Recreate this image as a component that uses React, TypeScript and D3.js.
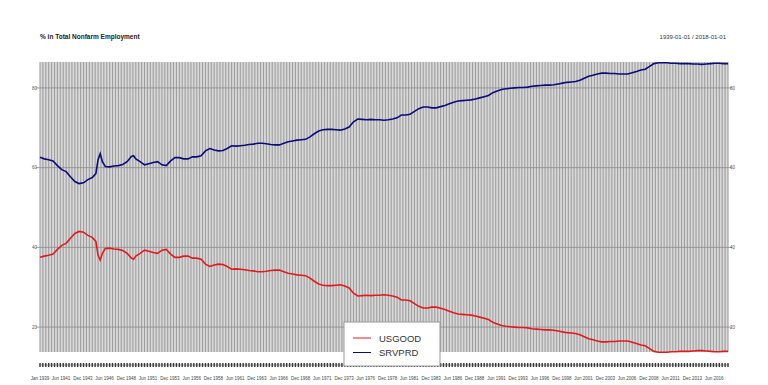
import React from 'react';
import * as d3 from 'd3';

// semi-annual readings (plus a few extra months around 1945/1949)
const dates: string[] = [
    '1939-01', '1939-07', '1940-01', '1940-07', '1941-01', '1941-07', '1942-01', '1942-07',
    '1943-01', '1943-07', '1944-01', '1944-07', '1945-01', '1945-06', '1945-09', '1945-12',
    '1946-03', '1946-07', '1947-01', '1947-07', '1948-01', '1948-07', '1949-01', '1949-07',
    '1949-10', '1950-01', '1950-07', '1951-01', '1951-07', '1952-01', '1952-07', '1953-01',
    '1953-07', '1954-01', '1954-07', '1955-01', '1955-07', '1956-01', '1956-07', '1957-01',
    '1957-07', '1958-01', '1958-07', '1959-01', '1959-07', '1960-01', '1960-07', '1961-01',
    '1961-07', '1962-01', '1962-07', '1963-01', '1963-07', '1964-01', '1964-07', '1965-01',
    '1965-07', '1966-01', '1966-07', '1967-01', '1967-07', '1968-01', '1968-07', '1969-01',
    '1969-07', '1970-01', '1970-07', '1971-01', '1971-07', '1972-01', '1972-07', '1973-01',
    '1973-07', '1974-01', '1974-07', '1975-01', '1975-07', '1976-01', '1976-07', '1977-01',
    '1977-07', '1978-01', '1978-07', '1979-01', '1979-07', '1980-01', '1980-07', '1981-01',
    '1981-07', '1982-01', '1982-07', '1983-01', '1983-07', '1984-01', '1984-07', '1985-01',
    '1985-07', '1986-01', '1986-07', '1987-01', '1987-07', '1988-01', '1988-07', '1989-01',
    '1989-07', '1990-01', '1990-07', '1991-01', '1991-07', '1992-01', '1992-07', '1993-01',
    '1993-07', '1994-01', '1994-07', '1995-01', '1995-07', '1996-01', '1996-07', '1997-01',
    '1997-07', '1998-01', '1998-07', '1999-01', '1999-07', '2000-01', '2000-07', '2001-01',
    '2001-07', '2002-01', '2002-07', '2003-01', '2003-07', '2004-01', '2004-07', '2005-01',
    '2005-07', '2006-01', '2006-07', '2007-01', '2007-07', '2008-01', '2008-07', '2009-01',
    '2009-07', '2010-01', '2010-07', '2011-01', '2011-07', '2012-01', '2012-07', '2013-01',
    '2013-07', '2014-01', '2014-07', '2015-01', '2015-07', '2016-01', '2016-07', '2017-01',
    '2017-07', '2018-01'
];

const usgood: number[] = [
    37.5, 37.8, 38.0, 38.3, 39.5, 40.5, 41.0, 42.3,
    43.5, 44.0, 43.8, 43.0, 42.5, 41.5, 38.0, 36.8,
    38.5, 39.7, 39.8, 39.6, 39.5, 39.2, 38.5, 37.3,
    37.0, 37.8, 38.5, 39.3, 39.0, 38.7, 38.5, 39.3,
    39.5, 38.3, 37.5, 37.5, 37.8, 37.8, 37.3, 37.3,
    37.0, 35.8, 35.2, 35.6, 35.8, 35.7, 35.2, 34.5,
    34.6, 34.5, 34.4, 34.2, 34.1, 33.9, 33.9, 34.0,
    34.2, 34.3, 34.3, 33.9, 33.5, 33.3, 33.1, 33.0,
    32.9, 32.3, 31.5, 30.8, 30.5, 30.4, 30.4, 30.5,
    30.6, 30.3, 29.8, 28.5, 27.8, 27.9, 28.0, 27.9,
    28.0, 28.0, 28.1, 28.0, 27.8, 27.5, 26.8, 26.8,
    26.6, 25.9, 25.2, 24.8, 24.8, 25.0, 25.0, 24.7,
    24.4, 24.0, 23.6, 23.3, 23.2, 23.1, 23.0, 22.8,
    22.5, 22.2, 21.9, 21.2, 20.8, 20.4, 20.2, 20.1,
    20.0, 19.9, 19.9, 19.8, 19.6, 19.5, 19.4, 19.3,
    19.3, 19.2, 19.0, 18.8, 18.6, 18.5, 18.4, 18.1,
    17.6, 17.1, 16.8, 16.5, 16.3, 16.3, 16.4, 16.4,
    16.5, 16.5, 16.5, 16.2, 15.9, 15.5, 15.3, 14.6,
    13.9, 13.7, 13.7, 13.7, 13.8, 13.8, 13.9, 13.9,
    13.9, 14.0, 14.1, 14.1, 14.0, 13.9, 13.8, 13.8,
    13.9, 13.9
];

const srvprd: number[] = [
    62.6, 62.2, 62.0, 61.7, 60.5, 59.5, 59.0, 57.7,
    56.5, 56.0, 56.2, 57.0, 57.5, 58.5, 62.0, 63.5,
    61.5, 60.3, 60.2, 60.4, 60.5, 60.8, 61.5, 62.8,
    63.0, 62.2, 61.5, 60.7, 61.0, 61.3, 61.5, 60.7,
    60.5, 61.7, 62.5, 62.5, 62.2, 62.2, 62.7, 62.7,
    63.0, 64.2, 64.8, 64.4, 64.2, 64.3, 64.8, 65.5,
    65.4, 65.5, 65.6, 65.8, 65.9, 66.1, 66.1, 66.0,
    65.8, 65.7, 65.7, 66.1, 66.5, 66.7, 66.9, 67.0,
    67.1, 67.7, 68.5, 69.2, 69.5, 69.6, 69.6, 69.5,
    69.4, 69.7, 70.2, 71.5, 72.2, 72.1, 72.0, 72.1,
    72.0, 72.0, 71.9, 72.0, 72.2, 72.5, 73.2, 73.2,
    73.4, 74.1, 74.8, 75.2, 75.2, 75.0, 75.0, 75.3,
    75.6, 76.0, 76.4, 76.7, 76.8, 76.9, 77.0, 77.2,
    77.5, 77.8, 78.1, 78.8, 79.2, 79.6, 79.8, 79.9,
    80.0, 80.1, 80.1, 80.2, 80.4, 80.5, 80.6, 80.7,
    80.7, 80.8, 81.0, 81.2, 81.4, 81.5, 81.6, 81.9,
    82.4, 82.9, 83.2, 83.5, 83.7, 83.7, 83.6, 83.6,
    83.5, 83.5, 83.5, 83.8, 84.1, 84.5, 84.7, 85.4,
    86.1, 86.3, 86.3, 86.3, 86.2, 86.2, 86.1, 86.1,
    86.1, 86.0, 86.0, 85.9, 86.0, 86.1, 86.2, 86.2,
    86.1, 86.1
];

const yTicks: number[] = [20, 40, 60, 80];
const seriesNames: string[] = ['USGOOD', 'SRVPRD'];
const seriesColors: string[] = ['#e31a1c', '#0b0b7a'];

const W = 768;
const H = 385;
const left = 40;
const right = 728;
const top = 62;
const bottom = 352;

const parse = d3.timeParse('%Y-%m');
const fmt = d3.timeFormat('%b %Y');

const App: React.FC = () => {
    const start = parse('1939-01') as Date;
    const end = parse('2018-01') as Date;

    const x = d3.scaleTime().domain([start, end]).range([left, right]);
    const y = d3.scaleLinear().domain([13.75, 86.5]).range([bottom, top]);

    const parsed = dates.map(d => parse(d) as Date);

    const line = d3.line<number>()
        .x((_, i) => x(parsed[i]))
        .y(d => y(d));

    // grid stripes every 4 months; labels on the first month, then every 30th from month 29
    const stripes = d3.timeMonth.every(4)!.range(start, d3.timeMonth.offset(end, 1));
    const labels = d3.timeMonth.range(start, end).filter((_, i) => i === 0 || (i >= 29 && (i - 29) % 30 === 0));

    const font = '"Liberation Sans", Arial, sans-serif';

    return (
        <svg width={W} height={H} style={{position: 'absolute', left: 0, top: 0, background: '#fff'}}
             fontFamily={font}>
            <text x={left} y={39} fontSize={6.5} fontWeight="bold" fill="#222">% in Total Nonfarm Employment</text>
            <text x={right - 2} y={39} fontSize={6} textAnchor="end" fill="#333">1939-01-01 / 2018-01-01</text>

            <rect x={left} y={top} width={right - left} height={bottom - top} fill="#d9d9d9"/>
            {stripes.map((d, i) => (
                <line key={'s' + i} x1={x(d)} x2={x(d)} y1={top} y2={bottom} stroke="#9e9e9e" strokeWidth={1.1}/>
            ))}
            {yTicks.map(t => (
                <g key={'y' + t}>
                    <line x1={left - 4} x2={right + 4} y1={y(t)} y2={y(t)} stroke="#8c8c8c" strokeWidth={0.8}/>
                    <text x={left - 3} y={y(t) + 1.8} fontSize={4.5} textAnchor="end" fill="#555">{t}</text>
                    <text x={right + 2} y={y(t) + 1.8} fontSize={4.5} fill="#555">{t}</text>
                </g>
            ))}

            {/* x axis tick band */}
            {stripes.map((d, i) => (
                <line key={'t' + i} x1={x(d)} x2={x(d)} y1={363} y2={367} stroke="#333" strokeWidth={1.4}/>
            ))}
            <line x1={left} x2={right} y1={365} y2={365} stroke="#555" strokeWidth={0.6}/>
            {labels.map((d, i) => (
                <text key={'l' + i} x={x(d)} y={380} fontSize={4.5} textAnchor="middle" fill="#444">{fmt(d)}</text>
            ))}

            <path d={line(usgood) || ''} fill="none" stroke={seriesColors[0]} strokeWidth={1.6}/>
            <path d={line(srvprd) || ''} fill="none" stroke={seriesColors[1]} strokeWidth={1.6}/>

            <g>
                <rect x={344} y={322} width={96} height={44} fill="#fff" stroke="#999" strokeWidth={1}/>
                {seriesNames.map((n, i) => (
                    <g key={n}>
                        <line x1={353} x2={371} y1={338 + i * 14.5} y2={338 + i * 14.5}
                              stroke={seriesColors[i]} strokeWidth={1}/>
                        <text x={379} y={341.5 + i * 14.5} fontSize={9.5} fill="#333">{n}</text>
                    </g>
                ))}
            </g>
        </svg>
    );
};

export default App;
